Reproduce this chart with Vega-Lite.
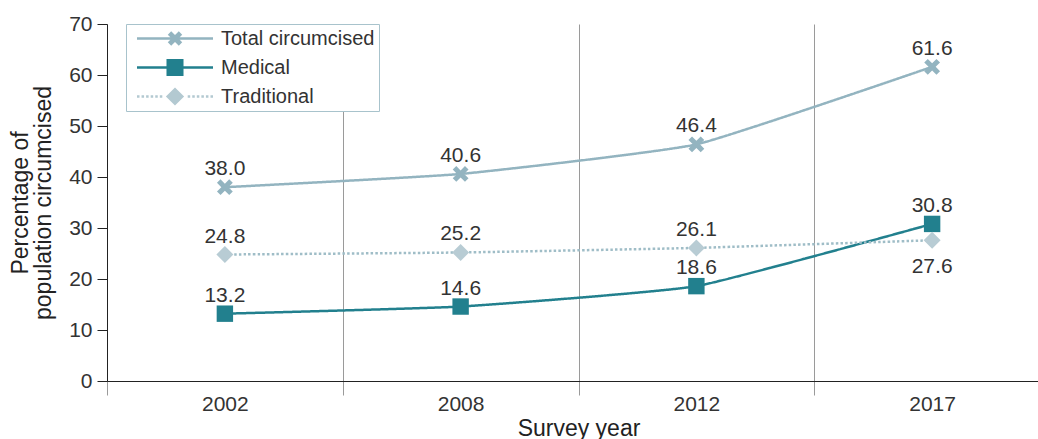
{
  "$schema": "https://vega.github.io/schema/vega-lite/v6.json",
  "width": 931,
  "height": 357,
  "autosize": {"type": "none"},
  "padding": {"left": 107, "top": 24, "right": 0, "bottom": 58},
  "config": {
    "font": "Liberation Sans",
    "view": {"stroke": null},
    "axis": {
      "labelFontSize": 21,
      "titleFontSize": 23,
      "titleFontWeight": "normal",
      "labelColor": "#333333",
      "titleColor": "#222222",
      "domainColor": "#222222",
      "tickColor": "#222222"
    }
  },
  "data": {
    "values": [
      {"year": "2002", "series": "Total circumcised", "value": 38.0},
      {"year": "2008", "series": "Total circumcised", "value": 40.6},
      {"year": "2012", "series": "Total circumcised", "value": 46.4},
      {"year": "2017", "series": "Total circumcised", "value": 61.6},
      {"year": "2002", "series": "Medical", "value": 13.2},
      {"year": "2008", "series": "Medical", "value": 14.6},
      {"year": "2012", "series": "Medical", "value": 18.6},
      {"year": "2017", "series": "Medical", "value": 30.8},
      {"year": "2002", "series": "Traditional", "value": 24.8},
      {"year": "2008", "series": "Traditional", "value": 25.2},
      {"year": "2012", "series": "Traditional", "value": 26.1},
      {"year": "2017", "series": "Traditional", "value": 27.6}
    ]
  },
  "encoding": {
    "x": {
      "field": "year",
      "type": "nominal",
      "sort": ["2002", "2008", "2012", "2017"],
      "scale": {"range": [0, 943], "paddingInner": 0, "paddingOuter": 0},
      "axis": {
        "title": "Survey year",
        "labelAngle": 0,
        "tickBand": "extent",
        "grid": true,
        "gridColor": "#9a9a9a",
        "gridWidth": 1,
        "tickColor": "#9a9a9a",
        "tickSize": 14,
        "labelPadding": -2,
        "titlePadding": 3
      }
    },
    "y": {
      "field": "value",
      "type": "quantitative",
      "scale": {"domain": [0, 70], "nice": false},
      "axis": {
        "title": ["Percentage of", "population circumcised"],
        "titleLineHeight": 23,
        "values": [0, 10, 20, 30, 40, 50, 60, 70],
        "grid": false,
        "tickSize": 10,
        "labelPadding": 5,
        "titlePadding": 13
      }
    }
  },
  "layer": [
    {
      "mark": {"type": "line", "interpolate": "cardinal", "tension": 0.6, "strokeWidth": 2.5},
      "encoding": {
        "color": {
          "field": "series",
          "type": "nominal",
          "scale": {"domain": ["Total circumcised", "Medical", "Traditional"], "range": ["#93b4c0", "#22808e", "#9fbdc7"]},
          "legend": null
        },
        "strokeDash": {
          "field": "series",
          "type": "nominal",
          "scale": {"domain": ["Total circumcised", "Medical", "Traditional"], "range": [[1, 0], [1, 0], [2.5, 2.2]]},
          "legend": null
        }
      }
    },
    {
      "mark": {"type": "point", "filled": true, "opacity": 1},
      "encoding": {
        "color": {
          "field": "series",
          "type": "nominal",
          "scale": {"domain": ["Total circumcised", "Medical", "Traditional"], "range": ["#93b4c0", "#22808e", "#b8ccd4"]},
          "legend": null
        },
        "shape": {
          "field": "series",
          "type": "nominal",
          "scale": {
            "domain": ["Total circumcised", "Medical", "Traditional"],
            "range": ["M0,-0.45L0.55,-1L1,-0.55L0.45,0L1,0.55L0.55,1L0,0.45L-0.55,1L-1,0.55L-0.45,0L-1,-0.55L-0.55,-1Z", "square", "diamond"]
          },
          "legend": null
        },
        "size": {
          "field": "series",
          "type": "nominal",
          "scale": {"domain": ["Total circumcised", "Medical", "Traditional"], "range": [250, 289, 484]},
          "legend": null
        }
      }
    },
    {
      "transform": [{"filter": "!(datum.series == 'Traditional' && datum.year == '2017')"}],
      "mark": {"type": "text", "fontSize": 21, "color": "#333333", "baseline": "alphabetic", "dy": -12},
      "encoding": {"text": {"field": "value", "type": "quantitative", "format": ".1f"}}
    },
    {
      "transform": [{"filter": "datum.series == 'Traditional' && datum.year == '2017'"}],
      "mark": {"type": "text", "fontSize": 21, "color": "#333333", "baseline": "alphabetic", "dy": 33},
      "encoding": {"text": {"field": "value", "type": "quantitative", "format": ".1f"}}
    },
    {
      "transform": [{"filter": "false"}],
      "mark": {"type": "point", "filled": true, "opacity": 1},
      "encoding": {
        "color": {
          "field": "series",
          "type": "nominal",
          "scale": {"domain": ["Total circumcised", "Medical", "Traditional"], "range": ["#93b4c0", "#22808e", "#b3c9d1"]}
        },
        "shape": {
          "field": "series",
          "type": "nominal",
          "scale": {
            "domain": ["Total circumcised", "Medical", "Traditional"],
            "range": [
              "M-1,-0.033H1V0.033H-1Z M0,-0.09L0.1,-0.19L0.19,-0.1L0.09,0L0.19,0.1L0.1,0.19L0,0.09L-0.1,0.19L-0.19,0.1L-0.09,0L-0.19,-0.1L-0.1,-0.19Z",
              "M-1,-0.033H1V0.033H-1Z M-0.224,-0.224H0.224V0.224H-0.224Z",
              "M-1,-0.033h0.066v0.066h-0.066Z M-0.88,-0.033h0.066v0.066h-0.066Z M-0.76,-0.033h0.066v0.066h-0.066Z M-0.64,-0.033h0.066v0.066h-0.066Z M-0.52,-0.033h0.066v0.066h-0.066Z M-0.4,-0.033h0.066v0.066h-0.066Z M0.334,-0.033h0.066v0.066h-0.066Z M0.454,-0.033h0.066v0.066h-0.066Z M0.574,-0.033h0.066v0.066h-0.066Z M0.694,-0.033h0.066v0.066h-0.066Z M0.814,-0.033h0.066v0.066h-0.066Z M0.934,-0.033h0.066v0.066h-0.066Z M0,-0.24L0.24,0L0,0.24L-0.24,0Z"
            ]
          },
          "legend": {
            "title": null,
            "orient": "none",
            "legendX": 19,
            "legendY": 0,
            "symbolSize": 5776,
            "symbolStrokeWidth": 0,
            "clipHeight": 21,
            "rowPadding": 8,
            "symbolOffset": 7,
            "labelOffset": 8,
            "labelFontSize": 20,
            "labelColor": "#333333",
            "labelFont": "Liberation Sans",
            "padding": 4,
            "strokeColor": "#a8c3cc",
            "fillColor": "#ffffff",
            "cornerRadius": 0
          }
        }
      }
    }
  ],
  "resolve": {
    "scale": {"color": "independent", "shape": "independent", "size": "independent", "strokeDash": "independent"},
    "legend": {"color": "independent", "shape": "independent"}
  }
}
